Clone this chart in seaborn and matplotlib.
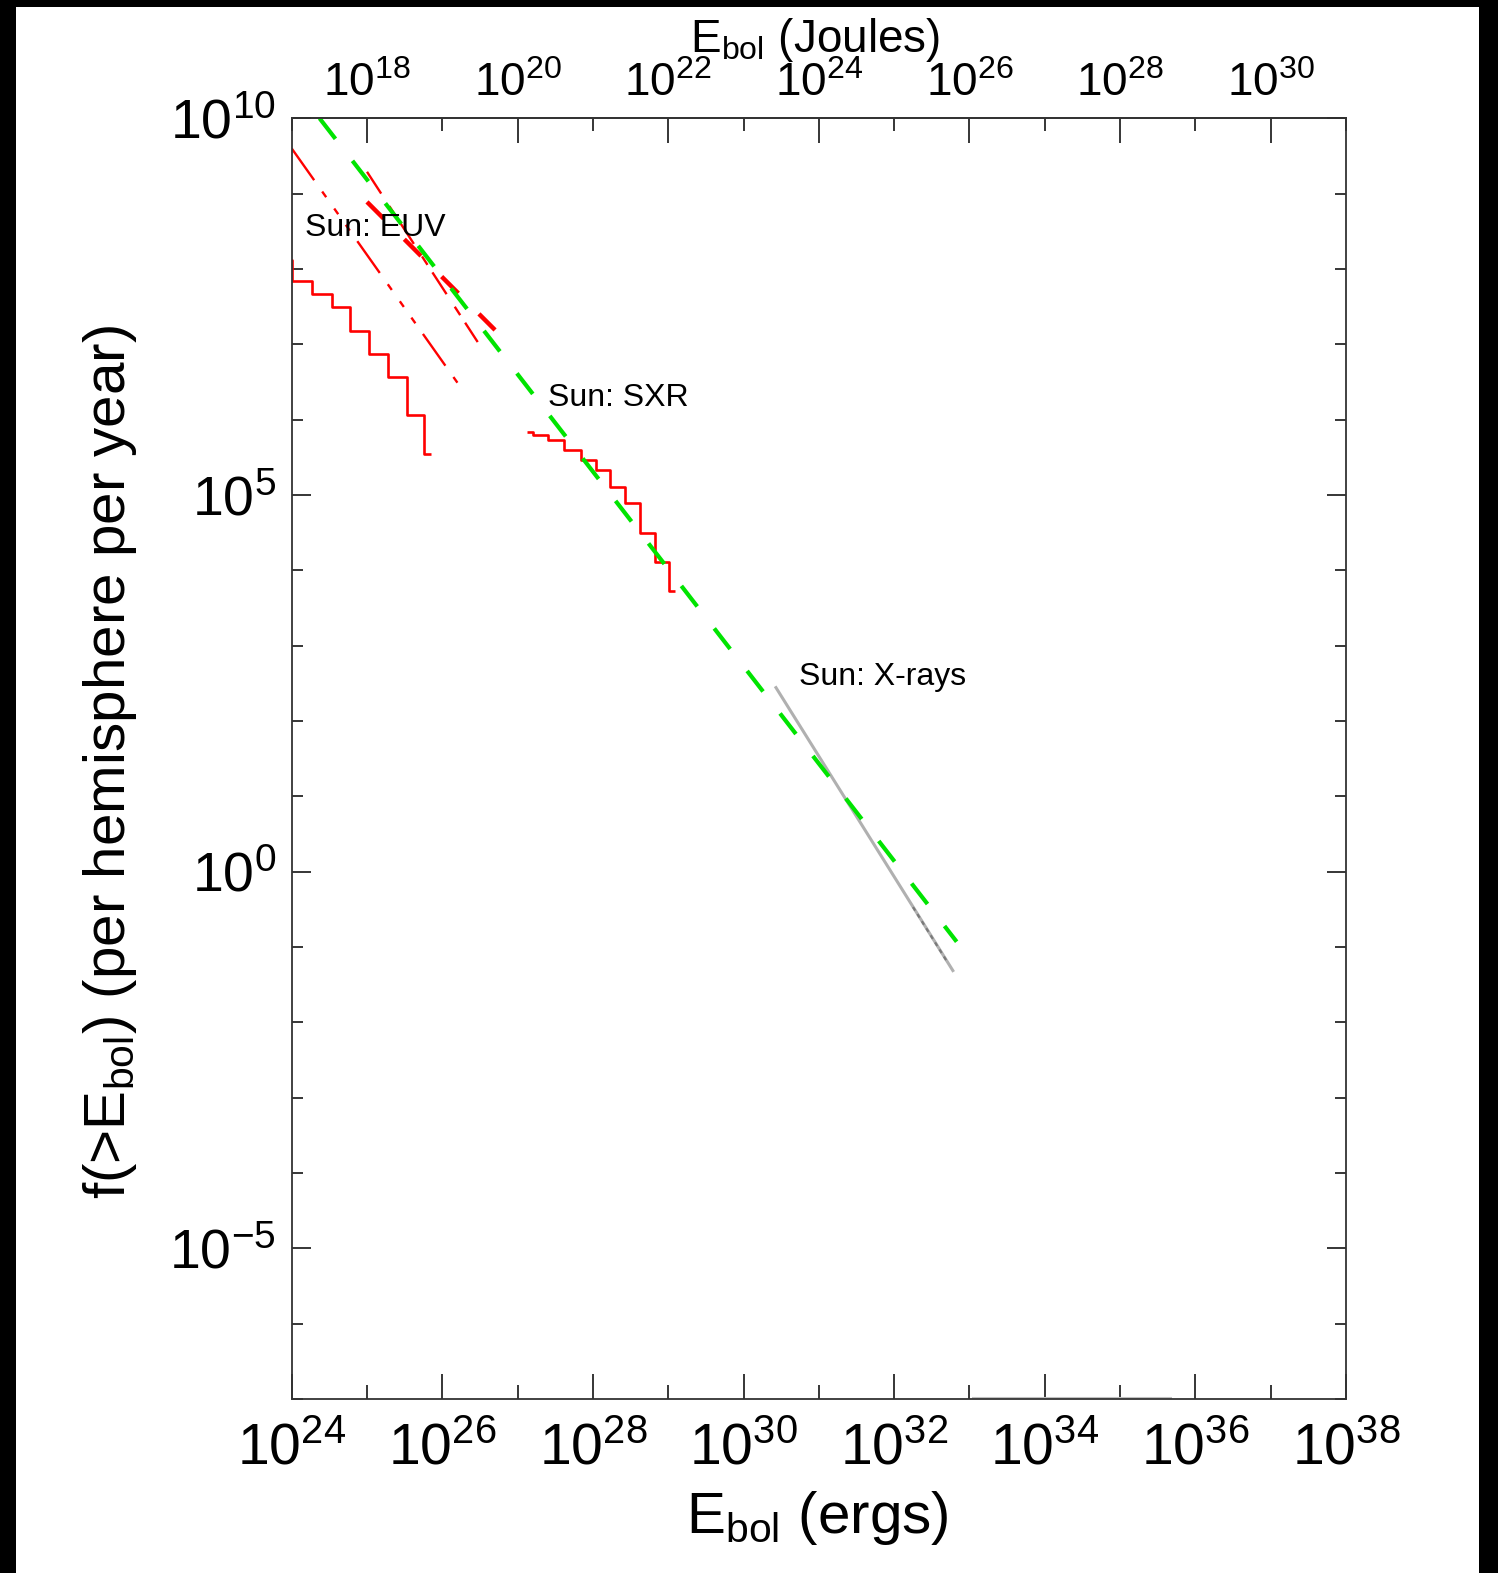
import numpy as np
import pandas as pd
import matplotlib
matplotlib.use("Agg")
import matplotlib.pyplot as plt
import seaborn as sns
from matplotlib.ticker import FixedLocator, FuncFormatter, NullFormatter
from matplotlib.patches import Rectangle

# ---------------- data (log10 values) ----------------
# EUV cumulative histogram (steps)
euv_hist_logE = [23.9, 24.0, 24.27, 24.53, 24.78, 25.03, 25.28, 25.53, 25.76, 25.85]
euv_hist_logf = [8.12, 7.84, 7.67, 7.49, 7.18, 6.87, 6.57, 6.06, 5.54, 5.54]

# EUV power-law fits
euv_fit1_logE = [24.0, 26.30]
euv_fit1_logf = [9.60, 6.35]
euv_fit2_logE = [25.0, 26.47]
euv_fit2_logf = [9.29, 7.03]
euv_fit3_logE = [25.0, 26.70]
euv_fit3_logf = [8.89, 7.19]

# SXR cumulative histogram (steps)
sxr_logE = [27.12, 27.21, 27.41, 27.62, 27.84, 28.04, 28.23, 28.43, 28.63, 28.82, 29.01, 29.09]
sxr_logf = [5.84, 5.79, 5.73, 5.60, 5.47, 5.33, 5.11, 4.90, 4.50, 4.11, 3.72, 3.72]

# X-ray distribution
xray_logE = [30.42, 32.79]
xray_logf = [2.46, -1.33]
xray_tail_logE = [32.25, 32.70]
xray_tail_logf = [-0.47, -1.19]
floor_logE = [33.03, 35.69]
floor_logf = [-6.99, -6.99]

# Overall power-law (green)
green_logE = [24.37, 32.83]
green_logf = [10.0, -0.93]

# labels
annot_text = ["Sun: EUV", "Sun: SXR", "Sun: X-rays"]
annot_logE = [24.18, 27.41, 30.73]
annot_logf = [8.54, 6.29, 2.59]

x_major_exp = [24, 26, 28, 30, 32, 34, 36, 38]
x_minor_exp = [25, 27, 29, 31, 33, 35, 37]
top_major_exp = [18, 20, 22, 24, 26, 28, 30]
top_minor_exp = [17, 19, 21, 23, 25, 27, 29, 31]
y_major_exp = [10, 5, 0, -5]
y_minor_exp = [e for e in range(-7, 11) if e not in (10, 5, 0, -5)]

# ---------------- style ----------------
sns.set_style("white")
plt.rcParams["font.family"] = ["Liberation Sans", "DejaVu Sans"]
plt.rcParams["mathtext.fontset"] = "custom"
plt.rcParams["mathtext.rm"] = "Liberation Sans"
plt.rcParams["mathtext.it"] = "Liberation Sans:italic"
plt.rcParams["mathtext.default"] = "regular"
plt.rcParams["lines.scale_dashes"] = False
plt.rcParams["lines.solid_capstyle"] = "butt"
plt.rcParams["lines.dash_capstyle"] = "butt"
for k in ["text.color", "axes.labelcolor", "xtick.color", "ytick.color"]:
    plt.rcParams[k] = "black"

W, H = 1498, 1573
fig = plt.figure(figsize=(W / 100, H / 100), dpi=100)
fig.patch.set_facecolor("white")
ax = fig.add_axes([291.7 / W, 1 - 1399 / H, (1346 - 291.7) / W, (1399 - 118.3) / H])


def pw(a):
    return 10 ** np.asarray(a, dtype=float)


def line(xl, yl, **kw):
    sns.lineplot(x=pw(xl), y=pw(yl), ax=ax, estimator=None, sort=False, **kw)


red = "#ff0000"
green = "#00e400"

line(euv_hist_logE, euv_hist_logf, color=red, lw=1.9, drawstyle="steps-post")
line(sxr_logE, sxr_logf, color=red, lw=1.9, drawstyle="steps-post")
line(euv_fit1_logE, euv_fit1_logf, color=red, lw=1.7,
     linestyle=(0, (28, 10, 5, 10, 5, 9.4, 5, 9.4)))
line(euv_fit2_logE, euv_fit2_logf, color=red, lw=1.7,
     linestyle=(0, (18.7, 10.8, 7.2, 6.5)))
line(euv_fit3_logE, euv_fit3_logf, color=red, lw=3.2,
     linestyle=(0, (17, 21)))
line(xray_logE, xray_logf, color="#b0b0b0", lw=2.2)
line(xray_tail_logE, xray_tail_logf, color="#7a7a7a", lw=1.6, linestyle=(0, (3, 3)))
line(floor_logE, floor_logf, color="#c0c0c0", lw=1.5)
line(green_logE, green_logf, color=green, lw=3.0, linestyle=(0, (18.7, 20)))

ax.set_xscale("log")
ax.set_yscale("log")
ax.set_xlim(1e24, 1e38)
ax.set_ylim(1e-7, 1e10)
ax.set_xlabel("")
ax.set_ylabel("")

for t, xe, ye in zip(annot_text, annot_logE, annot_logf):
    ax.text(10 ** xe, 10 ** ye, t, ha="left", va="center", fontsize=23, color="black")

fmt = FuncFormatter(lambda v, p: r"$10^{%d}$" % int(round(np.log10(v))))

ax.xaxis.set_major_locator(FixedLocator([10.0 ** e for e in x_major_exp]))
ax.xaxis.set_minor_locator(FixedLocator([10.0 ** e for e in x_minor_exp]))
ax.xaxis.set_major_formatter(fmt)
ax.xaxis.set_minor_formatter(NullFormatter())
ax.yaxis.set_major_locator(FixedLocator([10.0 ** e for e in y_major_exp]))
ax.yaxis.set_minor_locator(FixedLocator([10.0 ** e for e in y_minor_exp]))
ax.yaxis.set_major_formatter(fmt)
ax.yaxis.set_minor_formatter(NullFormatter())

ax.tick_params(axis="x", which="both", direction="in", top=False, bottom=True,
               colors="black", width=1.1, labelsize=41, pad=17)
ax.tick_params(axis="x", which="major", length=18)
ax.tick_params(axis="x", which="minor", length=10)
ax.tick_params(axis="y", which="both", direction="in", left=True, right=True,
               colors="black", width=1.1, labelsize=40, pad=11)
ax.tick_params(axis="y", which="major", length=14)
ax.tick_params(axis="y", which="minor", length=8)

for s in ax.spines.values():
    s.set_color("#333333")
    s.set_linewidth(1.3)

secax = ax.secondary_xaxis("top", functions=(lambda x: x * 1e-7, lambda x: x * 1e7))
secax.xaxis.set_major_locator(FixedLocator([10.0 ** e for e in top_major_exp]))
secax.xaxis.set_minor_locator(FixedLocator([10.0 ** e for e in top_minor_exp]))
secax.xaxis.set_major_formatter(fmt)
secax.xaxis.set_minor_formatter(NullFormatter())
secax.tick_params(axis="x", which="both", direction="in", colors="black", width=1.1,
                  labelsize=33, pad=9)
secax.tick_params(axis="x", which="major", length=18)
secax.tick_params(axis="x", which="minor", length=9)
secax.spines["top"].set_color("#333333")
secax.spines["top"].set_linewidth(1.3)

# axis titles
fig.text(110 / W, 1 - 762 / H, r"f(>E$_{bol}$) (per hemisphere per year)",
         rotation=90, ha="center", va="center", fontsize=42, color="black")
fig.text(817 / W, 1 - 1518 / H, r"E$_{bol}$ (ergs)", ha="center", va="center",
         fontsize=42, color="black")
fig.text(815 / W, 1 - 40 / H, r"E$_{bol}$ (Joules)", ha="center", va="center",
         fontsize=33, color="black")

# black frame bands
for (x0, y0, w, h) in [(0, H - 7, W, 7), (0, 0, 16, H), (1479, 0, W - 1479, H)]:
    fig.patches.append(Rectangle((x0 / W, y0 / H), w / W, h / H, transform=fig.transFigure,
                                 facecolor="black", edgecolor="none", zorder=10))

fig.savefig("out.png", dpi=100)
